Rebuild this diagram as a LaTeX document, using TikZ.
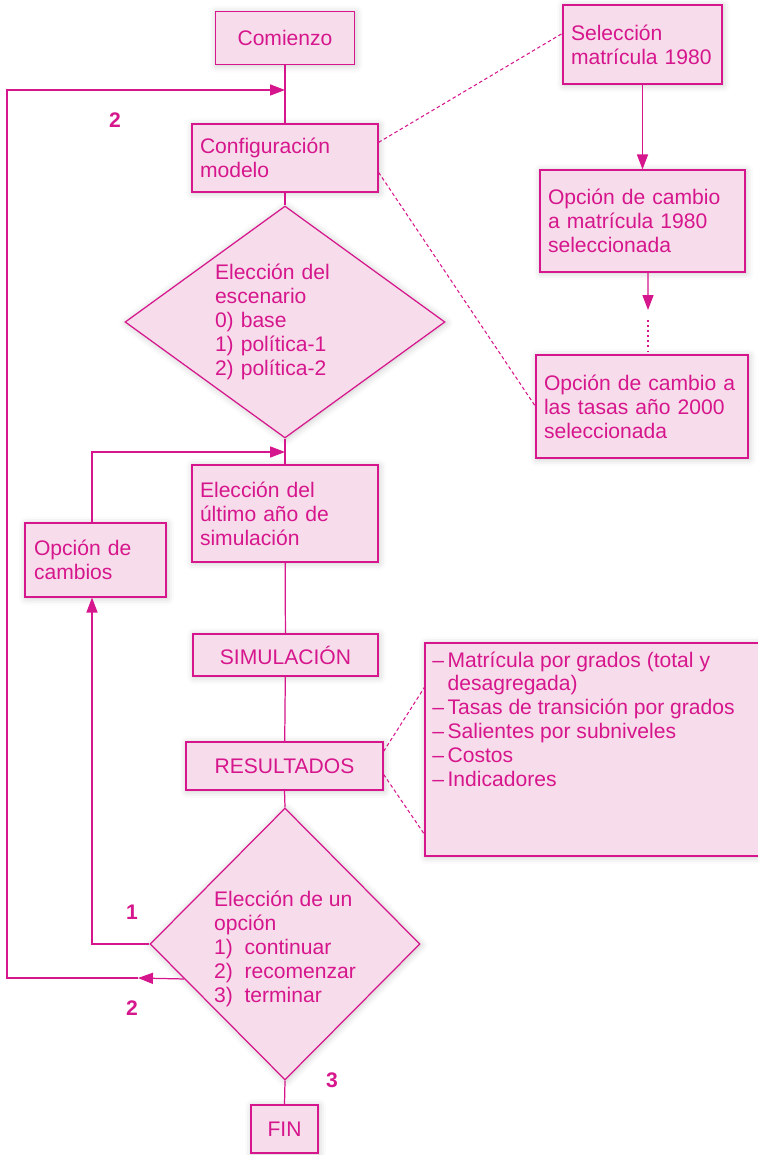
\documentclass[tikz,border=0pt]{standalone}
\usepackage{fontspec}
\setmainfont{Liberation Sans}
\usetikzlibrary{shapes.geometric,arrows.meta,calc,shadows.blur}

\definecolor{flowline}{HTML}{D6168C}
\definecolor{flowfill}{HTML}{F7DDEB}
\definecolor{flowtext}{HTML}{D6168C}
\newcommand\flowfont{\fontsize{12}{13.6}\selectfont}

\tikzset{
    softshadow/.style={blur shadow={shadow xshift=0.6pt, shadow yshift=-0.6pt, shadow blur radius=4pt, shadow opacity=22}},
    flowbox/.style={draw=flowline, fill=flowfill, text=flowtext, font=\flowfont, line width=0.7pt,
        inner xsep=0.16cm, inner ysep=0pt, align=left, softshadow},
    flowchoice/.style={diamond, draw=flowline, fill=flowfill, text=flowtext, font=\flowfont, line width=0.7pt,
        inner sep=0pt, align=left, softshadow},
    flowarrow/.style={draw=flowline, line width=0.7pt, -{Triangle[length=8.5pt,width=6.3pt]}},
    flowlink/.style={draw=flowline, line width=0.7pt},
    notelink/.style={draw=flowline, line width=0.6pt, dash pattern=on 2pt off 1.5pt},
    numlabel/.style={text=flowtext, font=\flowfont\bfseries}
}

\begin{document}
\begin{tikzpicture}[x=0.02cm, y=-0.02cm]
        \useasboundingbox (0,0) rectangle (757,1155);

        % Main column - start and setup
        \node[flowbox, align=center, minimum width=2.78cm, minimum height=1.06cm] (comienzo) at (285,38) {Comienzo};
        \node[flowbox, text width=3.4cm, minimum height=1.36cm] (config) at (285,158) {Configuración\\modelo};
        \node[flowchoice, aspect=1.38, text width=2.8cm, minimum width=6.4cm, minimum height=4.64cm] (escenario) at (285,322)
            {Elección del\\escenario\\0) base\\1) política-1\\2) política-2};
        \node[flowbox, text width=3.4cm, minimum height=1.94cm] (ultimo) at (285,513.5) {Elección del\\último año de\\simulación};

        % Main column - run and results
        \node[flowbox, align=center, minimum width=3.7cm, minimum height=0.84cm] (simul) at (285.5,655) {SIMULACIÓN};
        \node[flowbox, align=center, minimum width=3.94cm, minimum height=0.96cm] (result) at (284.5,766) {RESULTADOS};
        \node[flowchoice, aspect=1, minimum width=5.4cm, minimum height=5.44cm] (opcion) at (285,944)
            {\raisebox{-0.12cm}[\height][\depth]{\begin{tabular}{@{}l@{}}
             Elección de un\\opción\\1)\ \ continuar\\2)\ \ recomenzar\\3)\ \ terminar
             \end{tabular}}};
        \node[flowbox, align=center, minimum width=1.34cm, minimum height=0.96cm] (fin) at (284.5,1129) {FIN};

        % Left side box
        \node[flowbox, inner xsep=0.18cm, text width=2.46cm, minimum height=1.48cm] (cambios) at (95.5,560) {Opción de\\cambios};

        % Right column - selection of data
        \node[flowbox, text width=2.86cm, minimum height=1.58cm] (selec) at (642.5,44.5) {Selección\\matrícula 1980};
        \node[flowbox, text width=3.78cm, minimum height=2.04cm] (mat1980) at (642.5,221) {Opción de cambio\\a matrícula 1980\\seleccionada};
        \node[flowbox, text width=3.92cm, minimum height=2.06cm] (tasas) at (642,406.5) {Opción de cambio a\\las tasas año 2000\\seleccionada};

        % Results list
        \node[flowbox, minimum width=6.9cm, minimum height=4.26cm] (lista) at (597.5,749.5) {};
        \node[text=flowtext, font=\flowfont, anchor=north west, inner sep=0pt] (listatext) at (432,650)
            {\begin{tabular}{@{}l@{\,}l@{}}
             --&Matrícula por grados (total y\\
               &desagregada)\\
             --&Tasas de transición por grados\\
             --&Salientes por subniveles\\
             --&Costos\\
             --&Indicadores
             \end{tabular}};

        % Join points on the main column
        \coordinate (join1) at (285,90);
        \coordinate (join2) at (285,452);
        \coordinate (tip2) at (138,978);
        \coordinate (tip3) at (648,310);
        \coordinate (rest) at ($(opcion.west)!0.256!(opcion.south)$);

        % Main column connectors
        \draw[flowlink] (comienzo) -- (config);
        \draw[flowlink] (config) -- (escenario);
        \draw[flowlink] (escenario.south) -- (ultimo.north);
        \draw[flowlink] (ultimo) -- (simul);
        \draw[flowlink] (simul) -- (result);
        \draw[flowlink] (result.south) -- (opcion.north);
        \draw[flowlink] (opcion.south) -- (fin.north);

        % Loop 1 - continue
        \draw[flowarrow] (opcion.west) -| ([xshift=-0.07cm]cambios.south);
        \draw[flowarrow] ([xshift=-0.07cm]cambios.north) |- (join2);

        % Loop 2 - start again
        \draw[flowarrow] (rest) -- (tip2);
        \draw[flowarrow] (tip2) -- (7,978) |- (join1);

        % Right column connectors
        \draw[flowarrow] (selec) -- (mat1980);
        \draw[flowarrow] ([xshift=0.11cm]mat1980.south) -- (tip3);
        \draw[flowline, line width=0.9pt, dotted] ([yshift=-0.2cm]tip3) -- (tip3 |- tasas.north);

        % Dashed notes
        \draw[notelink] ([yshift=-0.38cm]config.north east) -- ([yshift=-0.58cm]selec.north west);
        \draw[notelink] ([yshift=-0.98cm]config.north east) -- ([yshift=-1.04cm]tasas.north west);
        \draw[notelink] ([yshift=-0.2cm]result.north east) -- ([yshift=-0.9cm]lista.north west);
        \draw[notelink] ([yshift=-0.66cm]result.north east) -- ([yshift=-3.84cm]lista.north west);

        % Choice numbers
        \node[numlabel] (num2a) at (115,120) {2};
        \node[numlabel] (num1) at (132,912) {1};
        \node[numlabel] (num2b) at (132,1008) {2};
        \node[numlabel] (num3) at (332,1080) {3};
    \end{tikzpicture}
\end{document}
